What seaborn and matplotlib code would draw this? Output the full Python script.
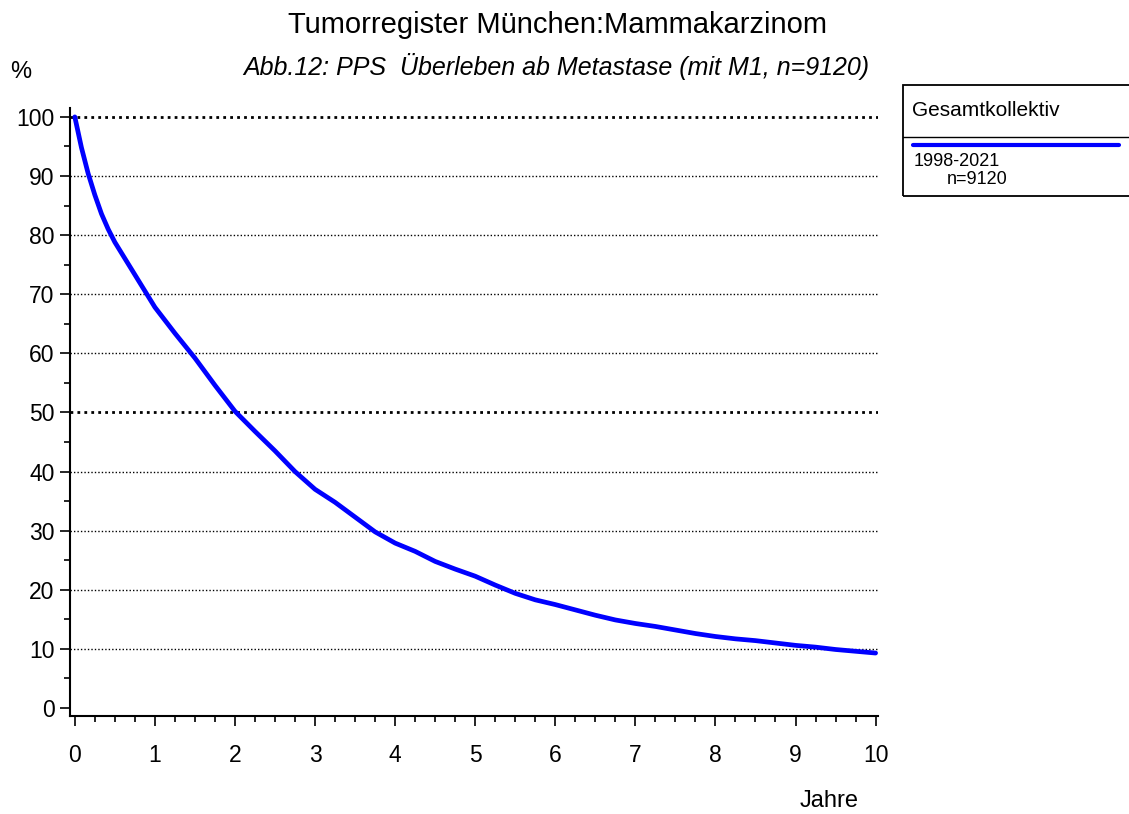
# Tumorregister Muenchen - PPS survival curve
import pandas as pd
import numpy as np
import matplotlib
matplotlib.use("Agg")
import matplotlib.pyplot as plt
import seaborn as sns
from matplotlib.ticker import MultipleLocator

# data (years, survival %)
jahre = [0, 0.083, 0.167, 0.25, 0.333, 0.417, 0.5, 0.75, 1.0, 1.25, 1.5, 1.75,
         2.0, 2.25, 2.5, 2.75, 3.0, 3.25, 3.5, 3.75, 4.0, 4.25, 4.5, 4.75,
         5.0, 5.25, 5.5, 5.75, 6.0, 6.25, 6.5, 6.75, 7.0, 7.25, 7.5, 7.75,
         8.0, 8.25, 8.5, 8.75, 9.0, 9.25, 9.5, 9.75, 10.0]
ueberleben = [100, 94.8, 90.4, 86.8, 83.6, 81.0, 78.8, 73.3, 67.8, 63.4, 59.2, 54.6,
              50.2, 46.8, 43.5, 40.0, 37.0, 34.8, 32.3, 29.8, 27.9, 26.5, 24.8, 23.5,
              22.3, 20.8, 19.4, 18.3, 17.5, 16.6, 15.7, 14.9, 14.3, 13.8, 13.2, 12.6,
              12.1, 11.7, 11.4, 11.0, 10.6, 10.3, 9.9, 9.6, 9.3]
grid_levels = [10, 20, 30, 40, 50, 60, 70, 80, 90, 100]
thick_levels = [50, 100]

df = pd.DataFrame({"Jahre": jahre, "Prozent": ueberleben})

sns.set_style("white")
plt.rcParams['font.family'] = ['Liberation Sans', 'DejaVu Sans']
plt.rcParams['text.color'] = 'black'
plt.rcParams['xtick.color'] = 'black'
plt.rcParams['ytick.color'] = 'black'

fig = plt.figure(figsize=(11.29, 8.14), dpi=100)
ax = fig.add_axes([70/1129, 98/814, 808/1129, 608/814])

# gridlines (dotted, 50 and 100 heavier)
for lv in grid_levels:
    lw = 2.0 if lv in thick_levels else 1.0
    ax.axhline(lv, color="black", linestyle=(0, (1, 1.5)), linewidth=lw, zorder=1)

sns.lineplot(data=df, x="Jahre", y="Prozent", color="#0000FF", linewidth=3.4, ax=ax, zorder=3)

ax.set_xlim(-0.06, 10.03)
ax.set_ylim(-1.35, 101.5)
ax.set_xlabel("")
ax.set_ylabel("")

for s in ["top", "right"]:
    ax.spines[s].set_visible(False)
for s in ["left", "bottom"]:
    ax.spines[s].set_color("black")
    ax.spines[s].set_linewidth(1.5)

ax.xaxis.set_major_locator(MultipleLocator(1))
ax.xaxis.set_minor_locator(MultipleLocator(0.25))
ax.yaxis.set_major_locator(MultipleLocator(10))
ax.yaxis.set_minor_locator(MultipleLocator(5))
ax.tick_params(axis="both", which="major", direction="out", length=7, width=1.2,
               labelsize=16.5, bottom=True, left=True)
ax.tick_params(axis="both", which="minor", direction="out", length=4, width=1.2,
               bottom=True, left=True)
ax.tick_params(axis="x", which="major", pad=13)
ax.tick_params(axis="y", which="major", pad=4)

# titles
fig.text(558/1129, 1 - 33/814, "Tumorregister München:Mammakarzinom",
         ha="center", va="baseline", fontsize=21)
fig.text(556/1129, 1 - 75/814, "Abb.12: PPS  Überleben ab Metastase (mit M1, n=9120)",
         ha="center", va="baseline", fontsize=18, style="italic")
fig.text(21/1129, 1 - 78/814, "%", ha="center", va="baseline", fontsize=17)
fig.text(829/1129, 1 - 807/814, "Jahre", ha="center", va="baseline", fontsize=17)

# legend box
box = plt.Rectangle((903/1129, 1 - 196/814), 240/1129, 111/814, transform=fig.transFigure,
                    fill=False, edgecolor="black", linewidth=1.3)
fig.add_artist(box)
fig.add_artist(plt.Line2D([903/1129, 1.0], [1 - 137/814] * 2, transform=fig.transFigure,
                          color="black", linewidth=1.0))
fig.add_artist(plt.Line2D([913/1129, 1119/1129], [1 - 145/814] * 2, transform=fig.transFigure,
                          color="#0000FF", linewidth=3.0))
fig.text(912/1129, 1 - 110/814, "Gesamtkollektiv", ha="left", va="center", fontsize=15)
fig.text(914/1129, 1 - 161/814, "1998-2021", ha="left", va="center", fontsize=13)
fig.text(947/1129, 1 - 179/814, "n=9120", ha="left", va="center", fontsize=13)

fig.savefig("out.png", dpi=100)
